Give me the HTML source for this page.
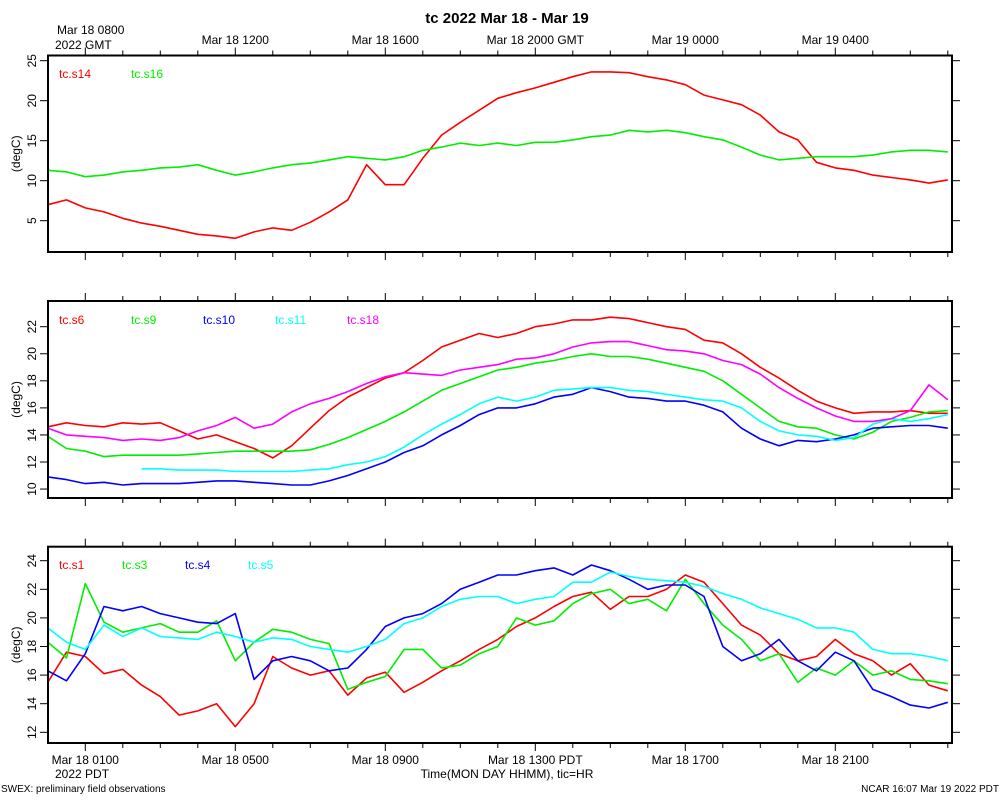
<!DOCTYPE html>
<html><head><meta charset="utf-8"><style>
body{margin:0;background:#fff;}
svg{display:block;font-family:"Liberation Sans",sans-serif;}
</style></head><body>
<svg id="c" width="1000" height="800" viewBox="0 0 1000 800">
<text x="507" y="23" text-anchor="middle" font-size="15" font-weight="bold">tc 2022 Mar 18 - Mar 19</text>
<text x="57" y="34" font-size="12">Mar 18 0800</text>
<text x="55" y="49" font-size="12">2022 GMT</text>
<text x="55" y="778" font-size="12">2022 PDT</text>
<text x="507" y="778" text-anchor="middle" font-size="12">Time(MON DAY HHMM), tic=HR</text>
<text x="1" y="792" font-size="10">SWEX: preliminary field observations</text>
<text x="999" y="792" text-anchor="end" font-size="10">NCAR 16:07 Mar 19 2022 PDT</text>
</svg>
<script>
const hours=[];for(let i=0;i<=48;i++)hours.push(i*0.5);
const topLabels=["","Mar 18 1200","Mar 18 1600","Mar 18 2000 GMT","Mar 19 0000","Mar 19 0400"];
const bottomLabels=["Mar 18 0100","Mar 18 0500","Mar 18 0900","Mar 18 1300 PDT","Mar 18 1700","Mar 18 2100"];
const labelHours=[1,5,9,13,17,21];
const s14=[7.0,7.6,6.6,6.1,5.3,4.7,4.3,3.8,3.3,3.1,2.8,3.6,4.1,3.8,4.8,6.1,7.6,12.0,9.5,9.5,12.8,15.7,17.3,18.8,20.3,21.0,21.6,22.3,23.0,23.6,23.6,23.5,23.0,22.6,22.0,20.7,20.1,19.5,18.2,16.1,15.1,12.3,11.6,11.3,10.7,10.4,10.1,9.7,10.1];
const s16=[11.3,11.1,10.5,10.7,11.1,11.3,11.6,11.7,12.0,11.3,10.7,11.1,11.6,12.0,12.2,12.6,13.0,12.8,12.6,13.0,13.8,14.2,14.7,14.4,14.7,14.4,14.8,14.8,15.1,15.5,15.7,16.3,16.1,16.3,16.0,15.5,15.1,14.2,13.2,12.6,12.8,13.0,13.0,13.0,13.2,13.6,13.8,13.8,13.6];
const s6=[14.6,14.9,14.7,14.6,14.9,14.8,14.9,14.3,13.7,14.0,13.5,13.0,12.3,13.2,14.5,15.8,16.8,17.5,18.2,18.6,19.5,20.5,21.0,21.5,21.2,21.5,22.0,22.2,22.5,22.5,22.7,22.6,22.3,22.0,21.8,21.0,20.8,20.0,19.0,18.2,17.3,16.5,16.0,15.6,15.7,15.7,15.8,15.6,15.6];
const s9=[13.9,13.0,12.8,12.4,12.5,12.5,12.5,12.5,12.6,12.7,12.8,12.8,12.8,12.8,12.9,13.3,13.8,14.4,15.0,15.7,16.5,17.3,17.8,18.3,18.8,19.0,19.3,19.5,19.8,20.0,19.8,19.8,19.6,19.3,19.0,18.7,18.0,17.0,16.0,15.0,14.6,14.5,14.0,13.7,14.2,15.0,15.3,15.7,15.8];
const s10=[10.9,10.7,10.4,10.5,10.3,10.4,10.4,10.4,10.5,10.6,10.6,10.5,10.4,10.3,10.3,10.6,11.0,11.5,12.0,12.7,13.2,14.0,14.7,15.5,16.0,16.0,16.3,16.8,17.0,17.5,17.2,16.8,16.7,16.5,16.5,16.2,15.7,14.5,13.7,13.2,13.6,13.5,13.7,14.0,14.5,14.6,14.7,14.7,14.5];
const s11=[null,null,null,null,null,11.5,11.5,11.4,11.4,11.4,11.3,11.3,11.3,11.3,11.4,11.5,11.8,12.0,12.4,13.1,14.0,14.8,15.5,16.3,16.8,16.5,16.8,17.3,17.4,17.5,17.5,17.3,17.2,17.0,16.8,16.6,16.5,16.0,15.0,14.3,14.0,13.9,13.6,13.8,14.8,15.2,15.0,15.2,15.5];
const s18=[14.5,14.0,13.9,13.8,13.6,13.7,13.6,13.8,14.3,14.7,15.3,14.5,14.8,15.7,16.3,16.7,17.2,17.8,18.3,18.6,18.5,18.4,18.8,19.0,19.2,19.6,19.7,20.0,20.5,20.8,20.9,20.9,20.6,20.3,20.2,20.0,19.5,19.2,18.5,17.5,16.7,16.0,15.4,15.0,15.0,15.2,15.8,17.7,16.6];
const s1=[15.5,17.6,17.3,16.1,16.4,15.3,14.5,13.2,13.5,14.0,12.4,14.0,17.3,16.5,16.0,16.3,14.6,15.8,16.2,14.8,15.5,16.3,17.0,17.8,18.5,19.4,20.0,20.8,21.5,21.8,20.6,21.5,21.5,22.0,23.0,22.5,21.0,19.5,18.8,17.5,17.0,17.3,18.5,17.5,17.0,16.0,16.8,15.3,14.9];
const s3=[18.3,17.2,22.4,19.7,19.0,19.3,19.6,19.0,19.0,19.8,17.0,18.3,19.2,19.0,18.5,18.2,15.0,15.5,15.9,17.8,17.8,16.5,16.7,17.5,18.0,20.0,19.5,19.8,21.0,21.7,22.0,21.0,21.3,20.5,22.7,21.0,19.5,18.5,17.0,17.5,15.5,16.5,16.0,17.0,16.0,16.3,15.7,15.6,15.4];
const s4=[16.3,15.6,17.5,20.8,20.5,20.8,20.3,20.0,19.7,19.6,20.3,15.7,17.0,17.3,17.0,16.3,16.5,17.8,19.4,20.0,20.3,21.0,22.0,22.5,23.0,23.0,23.3,23.5,23.0,23.7,23.3,22.7,22.0,22.3,22.3,21.5,18.0,17.0,17.5,18.5,17.0,16.3,17.6,17.0,15.0,14.5,13.9,13.7,14.1];
const s5=[19.3,18.3,17.8,19.5,18.7,19.3,18.7,18.6,18.5,19.0,18.7,18.3,18.6,18.5,18.0,17.8,17.6,18.0,18.5,19.6,20.0,20.8,21.3,21.5,21.5,21.0,21.3,21.5,22.5,22.5,23.2,22.9,22.7,22.6,22.5,22.2,21.7,21.3,20.7,20.3,19.9,19.3,19.3,19.0,17.8,17.5,17.5,17.3,17.0];

const NS="http://www.w3.org/2000/svg";
const svg=document.getElementById('c');
function mk(tag,attrs,parent){const e=document.createElementNS(NS,tag);for(const k in attrs)e.setAttribute(k,attrs[k]);(parent||svg).appendChild(e);return e;}
const X0=48,X1=952;
function xs(h){return 47.8+37.5*h;}
const panels=[
 {name:'panel-top',top:55.5,bot:252,vref:25,yref:60.7,ppd:8,ticks:[5,10,15,20,25],
  series:[['tc.s14',s14,'#ff0000',59],['tc.s16',s16,'#00ee00',131]],ly:78},
 {name:'panel-middle',top:301,bot:498,vref:22,yref:326.7,ppd:13.53,ticks:[10,12,14,16,18,20,22],
  series:[['tc.s6',s6,'#ff0000',59],['tc.s9',s9,'#00ee00',131],['tc.s10',s10,'#0000ff',203],['tc.s11',s11,'#00ffff',275],['tc.s18',s18,'#ff00ff',347]],ly:324},
 {name:'panel-bottom',top:546.7,bot:743,vref:24,yref:560.7,ppd:14.3,ticks:[12,14,16,18,20,22,24],
  series:[['tc.s1',s1,'#ff0000',59],['tc.s3',s3,'#00ee00',122],['tc.s4',s4,'#0000ff',185],['tc.s5',s5,'#00ffff',248]],ly:569}
];
panels.forEach((p,pi)=>{
 const g=mk('g',{});
 
 
 const ys=v=>p.yref+(p.vref-v)*p.ppd;
 // series
 p.series.forEach(s=>{
  let d='',pen=false;
  s[1].forEach((v,i)=>{if(v==null){pen=false;return;}d+=(pen?'L':'M')+xs(hours[i]).toFixed(1)+' '+ys(v).toFixed(1);pen=true;});
  const pth=mk('path',{d:d,fill:'none',stroke:s[2],'stroke-width':1.6,'stroke-linejoin':'round'},g);
  
  
  const t=mk('text',{x:s[3],y:p.ly,'font-size':12,fill:s[2]},g);
  t.textContent=s[0];
  
  
 });
 const fr=mk('rect',{x:X0,y:p.top,width:X1-X0,height:p.bot-p.top,fill:'none',stroke:'#000','stroke-width':2},g);
 
 
 p.ticks.forEach(v=>{
  const y=ys(v);
  mk('line',{x1:X0-8,x2:X0,y1:y,y2:y,stroke:'#000','stroke-width':1},g);
  mk('line',{x1:X1,x2:X1+8,y1:y,y2:y,stroke:'#000','stroke-width':1},g);
  const t=mk('text',{x:36,y:y,'font-size':12,'text-anchor':'middle',transform:'rotate(-90 36 '+y+')'},g);
  t.textContent=v;
  
  
 });
 const yl=mk('text',{x:20,y:(p.top+p.bot)/2,'font-size':12,'text-anchor':'middle',transform:'rotate(-90 20 '+(p.top+p.bot)/2+')'},g);
 yl.textContent='(degC)';
 
 
 for(let h=1;h<=24;h++){
  const x=xs(h);if(x>X1)break;
  const major=labelHours.includes(h);
  const L=major?8:5;
  mk('line',{x1:x,x2:x,y1:p.top-L,y2:p.top,stroke:'#000','stroke-width':1},g);
  mk('line',{x1:x,x2:x,y1:p.bot,y2:p.bot+L,stroke:'#000','stroke-width':1},g);
 }
});
labelHours.forEach((h,i)=>{
 if(topLabels[i]){
  const t=mk('text',{x:xs(h),y:44,'font-size':12,'text-anchor':'middle'});
  t.textContent=topLabels[i];
  
  
 }
 const b=mk('text',{x:xs(h),y:764,'font-size':12,'text-anchor':'middle'});
 b.textContent=bottomLabels[i];
 
 
});
</script>
</body></html>
